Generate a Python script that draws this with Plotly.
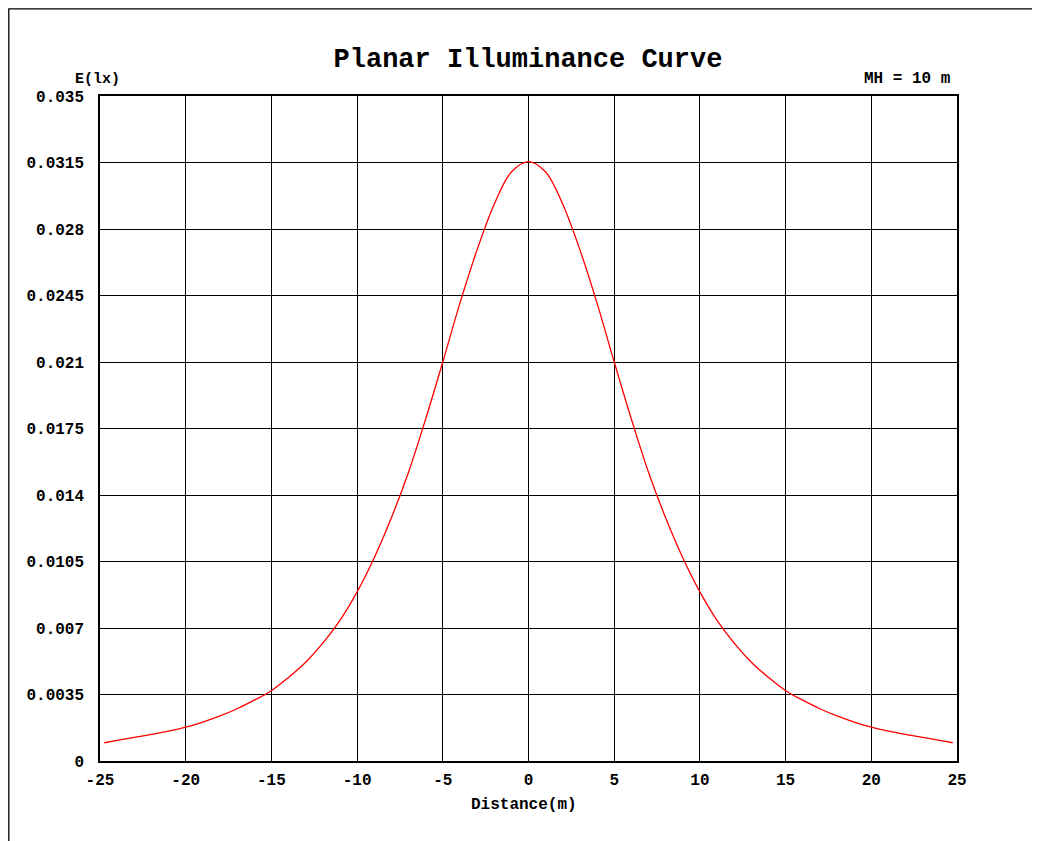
import plotly.graph_objects as go

distance_m = [-24.75, -24, -23, -22, -21, -20, -19, -18, -17, -16, -15, -14, -13, -12, -11,
              -10, -9, -8, -7, -6, -5, -4, -3, -2, -1, 0,
              1, 2, 3, 4, 5, 6, 7, 8, 9, 10, 11, 12, 13, 14, 15,
              16, 17, 18, 19, 20, 21, 22, 23, 24, 24.75]
illuminance_lx = [0.00096, 0.00108, 0.00124, 0.00140, 0.00157, 0.00178, 0.00205, 0.00237, 0.00275, 0.0032, 0.0037,
                  0.0044, 0.0052, 0.0062, 0.0074, 0.0089, 0.0107, 0.0128, 0.0152, 0.0180, 0.0210,
                  0.0241, 0.0269, 0.0293, 0.0310, 0.03155,
                  0.0310, 0.0293, 0.0269, 0.0241, 0.0210, 0.0180, 0.0152, 0.0128, 0.0107, 0.0089,
                  0.0074, 0.0062, 0.0052, 0.0044, 0.0037, 0.0032, 0.00275, 0.00237, 0.00205, 0.00178,
                  0.00157, 0.00140, 0.00124, 0.00108, 0.00096]

x_ticks = [-25, -20, -15, -10, -5, 0, 5, 10, 15, 20, 25]
y_ticks = [0, 0.0035, 0.007, 0.0105, 0.014, 0.0175, 0.021, 0.0245, 0.028, 0.0315, 0.035]
y_tick_text = ["0", "0.0035", "0.007", "0.0105", "0.014", "0.0175", "0.021", "0.0245", "0.028", "0.0315", "0.035"]

FONT = "Liberation Mono, Courier New, monospace"

# page body adds an 8px offset; figure coordinates are reference pixels minus 8
W, H = 1032, 833
L, T = 92, 88
PW, PH = 857, 665


def px(xp):
    return (xp - 8 - L) / PW


def py(yp):
    return (T + PH - (yp - 8)) / PH


fig = go.Figure()
fig.add_trace(go.Scatter(x=distance_m, y=illuminance_lx, mode="lines",
                         line=dict(color="red", width=1.3, shape="spline", smoothing=1.0),
                         hoverinfo="skip", showlegend=False))

fig.update_layout(
    width=W, height=H,
    margin=dict(l=L, r=W - L - PW, t=T, b=H - T - PH, pad=0),
    paper_bgcolor="white", plot_bgcolor="white",
    font=dict(family=FONT, size=16, color="black"),
    title=dict(text="<b>Planar Illuminance Curve</b>", x=(528 - 8) / W, xanchor="center",
               y=1 - (58 - 8) / H, yanchor="middle", font=dict(family=FONT, size=27, color="black")),
    xaxis=dict(range=[-25, 25], tickvals=x_ticks, ticktext=[str(v) for v in x_ticks],
               showgrid=True, gridcolor="black", gridwidth=1, zeroline=False,
               showline=True, linecolor="black", linewidth=1.5, mirror=True,
               ticks="", ticklabelstandoff=3,
               tickfont=dict(family=FONT, size=16, weight="bold", color="black")),
    yaxis=dict(range=[0, 0.035], tickvals=y_ticks, ticktext=y_tick_text,
               showgrid=True, gridcolor="black", gridwidth=1, zeroline=False,
               showline=True, linecolor="black", linewidth=1.5, mirror=True,
               ticks="", ticklabelstandoff=11,
               tickfont=dict(family=FONT, size=16, weight="bold", color="black")),
    shapes=[dict(type="rect", xref="paper", yref="paper",
                 x0=px(8.8), x1=1.5, y0=-0.5, y1=py(8.8),
                 line=dict(color="black", width=1.3), fillcolor="rgba(0,0,0,0)", layer="below")],
    annotations=[
        dict(text="<b>E(lx)</b>", xref="paper", yref="paper", x=px(73), y=py(79),
             xanchor="left", yanchor="middle", showarrow=False, font=dict(family=FONT, size=15)),
        dict(text="<b>MH = 10 m</b>", xref="paper", yref="paper", x=px(953), y=py(79),
             xanchor="right", yanchor="middle", showarrow=False, font=dict(family=FONT, size=16)),
        dict(text="<b>Distance(m)</b>", xref="paper", yref="paper", x=px(524), y=py(805),
             xanchor="center", yanchor="middle", showarrow=False, font=dict(family=FONT, size=16)),
    ],
)

fig.write_html("out.html")
